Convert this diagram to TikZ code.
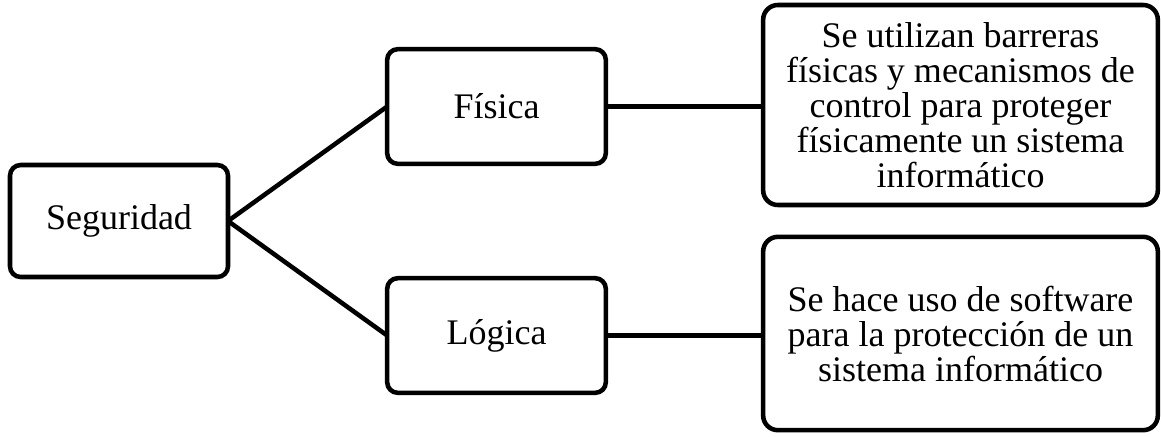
\documentclass[tikz,border=0pt]{standalone}
\usepackage{fontspec}
\setmainfont{Liberation Serif}
\usepackage{tikz}

\begin{document}
\begin{tikzpicture}[x=0.75pt,y=-0.75pt,
  caja/.style={draw,line width=3.4pt,rounded corners=8pt,inner sep=0pt,outer sep=0pt,
    align=center,font=\fontsize{27}{26.25}\selectfont},
  linea/.style={line width=3.4pt}]
\useasboundingbox (0,0) rectangle (1161,436);
\node[caja,minimum width=163.5pt,minimum height=84pt] (seg) at (119,221) {Seguridad};
\node[caja,minimum width=164pt,minimum height=86pt] (fis) at (496.5,106.5) {Física};
\node[caja,minimum width=164pt,minimum height=86pt] (log) at (496.5,335.5) {Lógica};
\node[caja,rounded corners=11pt,minimum width=296pt,minimum height=150pt] (descfis) at (960.5,105)
  {Se utilizan barreras\\físicas y mecanismos de\\control para proteger\\físicamente un sistema\\informático};
\node[caja,rounded corners=11pt,minimum width=296pt,minimum height=145pt] (desclog) at (960.5,333.5)
  {Se hace uso de software\\para la protección de un\\sistema informático};
\draw[linea] (seg.east) -- (fis.west);
\draw[linea] (seg.east) -- (log.west);
\draw[linea] (fis.east) -- (fis.east -| descfis.west);
\draw[linea] (log.east) -- (log.east -| desclog.west);
\end{tikzpicture}
\end{document}
